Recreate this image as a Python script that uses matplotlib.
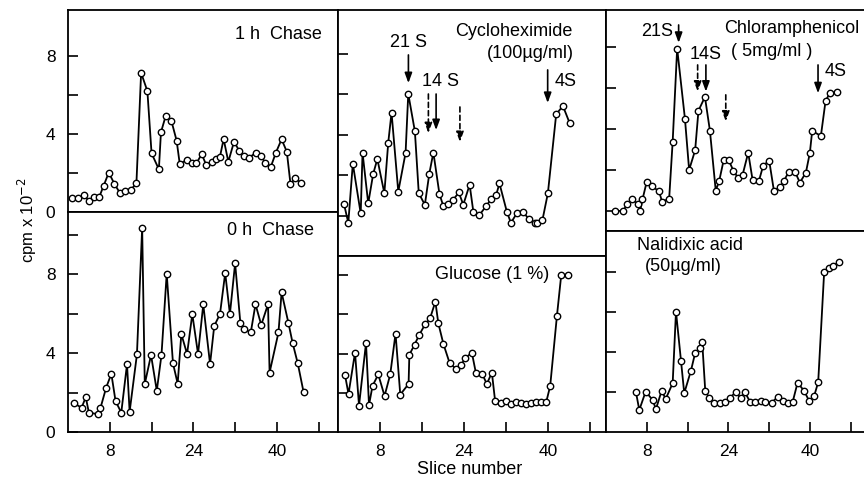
import matplotlib
matplotlib.use("Agg")
import matplotlib.pyplot as plt

plt.rcParams['font.family'] = ['Liberation Sans', 'DejaVu Sans']

# ---------------- data (slice number, cpm x 10^-2) ----------------
chase1_x = [0.8, 2.0, 3.0, 4.0, 5.0, 6.0, 6.8, 7.8, 8.9, 9.9, 10.9, 12.0, 13.1, 14.0, 15.2, 16.0,
            17.4, 17.8, 18.7, 19.8, 20.8, 21.4, 22.7, 23.7, 24.6, 25.6, 26.5, 27.5, 28.3, 29.1,
            29.8, 30.7, 31.8, 32.8, 33.7, 34.6, 36.0, 37.0, 37.8, 38.8, 39.8, 40.9, 41.9, 42.6,
            43.5, 44.7]
chase1_y = [0.70, 0.70, 0.87, 0.58, 0.75, 0.78, 1.33, 2.02, 1.44, 0.99, 1.09, 1.13, 1.47, 7.14,
            6.20, 3.01, 2.19, 4.09, 4.92, 4.67, 3.66, 2.46, 2.67, 2.50, 2.50, 2.97, 2.39, 2.58,
            2.72, 2.84, 3.74, 2.58, 3.61, 3.13, 2.87, 2.78, 3.04, 2.87, 2.50, 2.29, 3.04, 3.73,
            3.09, 1.44, 1.74, 1.47]

chase0_x = [1.2, 2.6, 3.4, 4.0, 5.8, 6.2, 7.3, 8.3, 9.1, 10.2, 11.3, 11.8, 13.2, 14.2, 14.7,
            15.9, 17.0, 17.9, 18.9, 20.1, 21.0, 21.7, 22.8, 23.8, 24.9, 25.9, 27.2, 28.0, 29.1,
            30.1, 31.0, 32.0, 33.0, 33.7, 35.0, 35.9, 37.0, 38.3, 38.6, 40.3, 40.9, 42.2, 43.0,
            44.0, 45.1]
chase0_y = [1.45, 1.23, 1.76, 0.98, 0.90, 1.20, 2.24, 2.95, 1.57, 0.98, 3.43, 1.03, 3.93, 10.34,
            2.43, 3.90, 2.09, 3.90, 8.02, 3.48, 2.45, 4.96, 3.95, 5.97, 3.95, 6.46, 3.44, 5.37,
            5.97, 8.05, 5.97, 8.54, 5.53, 5.24, 5.04, 6.47, 5.42, 6.47, 3.01, 5.04, 7.07, 5.53,
            4.52, 3.47, 2.03]

cyclo_x = [1.14, 1.96, 2.82, 4.32, 4.67, 5.75, 6.70, 7.49, 8.82, 9.56, 10.19, 11.47, 12.86, 13.37,
           14.63, 15.37, 16.53, 17.37, 18.15, 19.30, 20.06, 20.99, 21.96, 22.99, 23.84, 25.05,
           25.77, 26.91, 28.19, 29.14, 30.10, 30.72, 32.13, 32.90, 34.04, 35.18, 36.44, 37.52,
           37.96, 38.91, 39.94, 41.52, 42.80, 44.06]
cyclo_y = [2.57, 1.64, 4.56, 2.10, 5.10, 2.60, 4.06, 4.79, 3.10, 5.60, 7.08, 3.18, 5.09, 8.01,
           6.16, 3.10, 2.53, 4.06, 5.11, 3.07, 2.45, 2.58, 2.79, 3.14, 2.53, 3.52, 2.16, 2.02,
           2.47, 2.80, 3.01, 3.59, 2.19, 1.64, 2.11, 2.16, 1.81, 1.61, 1.64, 1.78, 3.10, 7.00,
           7.41, 6.58]

gluc_x = [1.33, 2.0, 3.24, 4.0, 5.33, 5.90, 6.57, 7.66, 8.86, 9.94, 10.95, 11.85, 13.43, 13.58,
          14.57, 15.47, 16.61, 17.52, 18.53, 19.09, 20.06, 21.24, 22.51, 23.43, 24.19, 25.47,
          26.23, 27.49, 28.32, 29.28, 29.90, 31.05, 32.0, 32.95, 33.85, 34.80, 35.75, 36.70,
          37.66, 38.61, 39.62, 40.38, 41.66, 42.48, 43.75]
gluc_y = [2.91, 1.94, 4.05, 1.35, 4.54, 1.38, 2.35, 2.94, 1.84, 2.94, 5.02, 1.91, 2.45, 3.94,
          4.46, 4.96, 5.51, 5.80, 6.65, 5.55, 4.49, 3.52, 3.20, 3.42, 3.76, 4.05, 3.03, 2.94,
          2.45, 3.03, 1.58, 1.46, 1.60, 1.43, 1.55, 1.46, 1.41, 1.49, 1.52, 1.52, 1.52, 2.35,
          5.92, 8.01, 8.01]

chloro_x = [1.7, 3.37, 4.16, 5.06, 6.27, 6.7, 7.16, 7.98, 8.96, 10.39, 11.0, 12.39, 13.08, 13.96,
            15.49, 16.31, 17.49, 18.14, 19.41, 20.39, 21.53, 22.2, 23.08, 24.08, 25.0, 25.88,
            26.80, 27.90, 28.76, 30.0, 30.84, 32.02, 32.94, 34.12, 34.9, 35.88, 37.06, 38.04,
            39.22, 40.0, 40.45, 42.16, 43.08, 43.92, 45.24]
chloro_y = [0.0, 0.0, 0.34, 0.57, 0.34, 0.0, 0.56, 1.41, 1.20, 0.97, 0.45, 0.59, 3.38, 7.92,
            4.49, 2.0, 2.96, 4.89, 5.56, 3.91, 0.99, 1.45, 2.47, 2.47, 1.96, 1.62, 1.76, 2.84,
            1.51, 1.46, 2.21, 2.45, 0.99, 1.16, 1.46, 1.92, 1.92, 1.38, 1.87, 2.84, 3.90, 3.66,
            5.37, 5.74, 5.79]

nalid_x = [5.88, 6.53, 7.78, 9.16, 9.80, 10.92, 11.71, 13.08, 13.73, 14.71, 15.35, 16.67, 17.51,
           18.43, 18.88, 19.47, 20.25, 21.24, 22.35, 23.33, 24.31, 25.49, 26.41, 27.25, 28.24,
           29.22, 30.33, 31.18, 32.49, 33.78, 34.65, 35.63, 36.61, 37.59, 38.88, 39.86, 40.84,
           41.63, 42.80, 43.73, 44.57, 45.69]
nalid_y = [1.99, 1.10, 2.02, 1.60, 1.14, 2.07, 1.65, 2.44, 6.02, 3.57, 1.94, 3.07, 3.97, 4.19,
           4.49, 2.07, 1.69, 1.47, 1.47, 1.52, 1.72, 1.99, 1.69, 1.99, 1.52, 1.52, 1.55, 1.49,
           1.47, 1.77, 1.55, 1.44, 1.49, 2.47, 2.05, 1.55, 1.80, 2.49, 7.99, 8.22, 8.32, 8.49]

xtick_pos = [8, 16, 24, 32, 40, 48]
xtick_lab = ['8', '', '24', '', '40', '']

# arrows: (slice, y_start, y_end)
cyclo_solid = [(13.4, 9.93, 8.54), (18.67, 8.0, 6.22), (39.9, 9.19, 7.56)]
cyclo_dashed = [(17.2, 8.0, 6.07), (23.2, 7.36, 5.63)]
chloro_solid = [(14.25, 9.07, 8.2), (19.6, 7.12, 5.82), (41.6, 7.12, 5.74)]
chloro_dashed = [(17.98, 7.12, 5.82), (23.5, 5.66, 4.36)]

# ---------------- figure ----------------
W, H = 864, 482
fig = plt.figure(figsize=(W / 100, H / 100), dpi=100)


def make_ax(x0, x1, ytop, ybot):
    return fig.add_axes([x0 / W, 1 - ybot / H, (x1 - x0) / W, (ybot - ytop) / H])


axA = make_ax(68, 338, 10, 212)    # 1 h chase
axB = make_ax(68, 338, 212, 432)   # 0 h chase
axC = make_ax(338, 606, 10, 256)   # cycloheximide
axD = make_ax(338, 606, 256, 432)  # glucose
axE = make_ax(606, 869, 10, 231)   # chloramphenicol
axF = make_ax(606, 869, 231, 432)  # nalidixic acid

line_kw = dict(color='black', lw=1.3, marker='o', ms=4.6, mfc='white', mec='black', mew=1.0)

panels = [
    (axA, chase1_x, chase1_y, (0, 51.7), (0, 10.36), [0, 2, 4, 6, 8]),
    (axB, chase0_x, chase0_y, (0, 51.7), (0, 11.14), [0, 2, 4, 6, 8, 10]),
    (axC, cyclo_x, cyclo_y, (0, 51.0), (0, 12.15), [2, 4, 6, 8, 10]),
    (axD, gluc_x, gluc_y, (0, 51.0), (0, 8.98), [2, 4, 6, 8]),
    (axE, chloro_x, chloro_y, (0, 51.6), (-0.98, 9.80), [0, 2, 4, 6, 8]),
    (axF, nalid_x, nalid_y, (0, 51.6), (0, 10.05), [2, 4, 6, 8]),
]

for ax, xs, ys, xl, yl, yt in panels:
    ax.plot(xs, ys, **line_kw)
    ax.set_xlim(*xl)
    ax.set_ylim(*yl)
    for s in ax.spines.values():
        s.set_linewidth(1.3)
    ax.set_yticks(yt)
    ax.tick_params(axis='both', direction='in', length=7, width=1.2, labelsize=12.5, pad=9)
    ax.tick_params(axis='y', labelleft=False)
    ax.set_xticks([])

for ax in (axA, axB):
    ax.set_yticks(ax.get_yticks())
    ax.set_yticklabels(['0' if v == 0 else ('4' if v == 4 else ('8' if v == 8 else '')) for v in ax.get_yticks()])
    ax.tick_params(axis='y', labelleft=True)

for ax in (axB, axD, axF):
    ax.set_xticks(xtick_pos)
    ax.set_xticklabels(xtick_lab)
    ax.tick_params(axis='x', direction='in', length=7, width=1.2, labelsize=12.5, pad=9)

txt_kw = dict(fontsize=13, ha='center', va='center')
axA.text(40.2, 9.08, '1 h  Chase', **txt_kw)
axB.text(38.8, 10.19, '0 h  Chase', **txt_kw)
axC.text(33.5, 11.08, 'Cycloheximide', **txt_kw)
axC.text(36.6, 10.01, '(100\u00b5g/ml)', **txt_kw)
axD.text(29.4, 8.05, 'Glucose (1 %)', **txt_kw)
axE.text(36.4, 8.91, 'Chloramphenicol', **txt_kw)
axE.text(32.5, 7.77, '( 5mg/ml )', **txt_kw)
axF.text(16.5, 9.30, 'Nalidixic acid', **txt_kw)
axF.text(15.2, 8.27, '(50\u00b5g/ml)', **txt_kw)

axC.text(13.5, 10.53, '21 S', **txt_kw)
axC.text(19.6, 8.61, '14 S', **txt_kw)
axC.text(43.4, 8.61, '4S', **txt_kw)
axE.text(9.94, 8.75, '21S', **txt_kw)
axE.text(19.6, 7.61, '14S', **txt_kw)
axE.text(45.1, 6.80, '4S', **txt_kw)


def draw_arrows(ax, solid, dashed):
    for x, y0, y1 in solid:
        ax.annotate('', xy=(x, y1), xytext=(x, y0),
                    arrowprops=dict(arrowstyle='-|>,head_length=0.6,head_width=0.22',
                                    color='black', lw=1.2, shrinkA=0, shrinkB=0))
    for x, y0, y1 in dashed:
        ax.annotate('', xy=(x, y1), xytext=(x, y0),
                    arrowprops=dict(arrowstyle='-|>,head_length=0.6,head_width=0.22',
                                    color='black', lw=1.2, ls=(0, (3, 2)),
                                    shrinkA=0, shrinkB=0))


draw_arrows(axC, cyclo_solid, cyclo_dashed)
draw_arrows(axE, chloro_solid, chloro_dashed)

fig.text(27 / W, 1 - 220 / H, 'cpm x 10$^{-2}$', rotation=90, ha='center', va='center', fontsize=12)
fig.text(470 / W, 1 - 469 / H, 'Slice number', ha='center', va='center', fontsize=13)

fig.savefig('out.png', dpi=100)
